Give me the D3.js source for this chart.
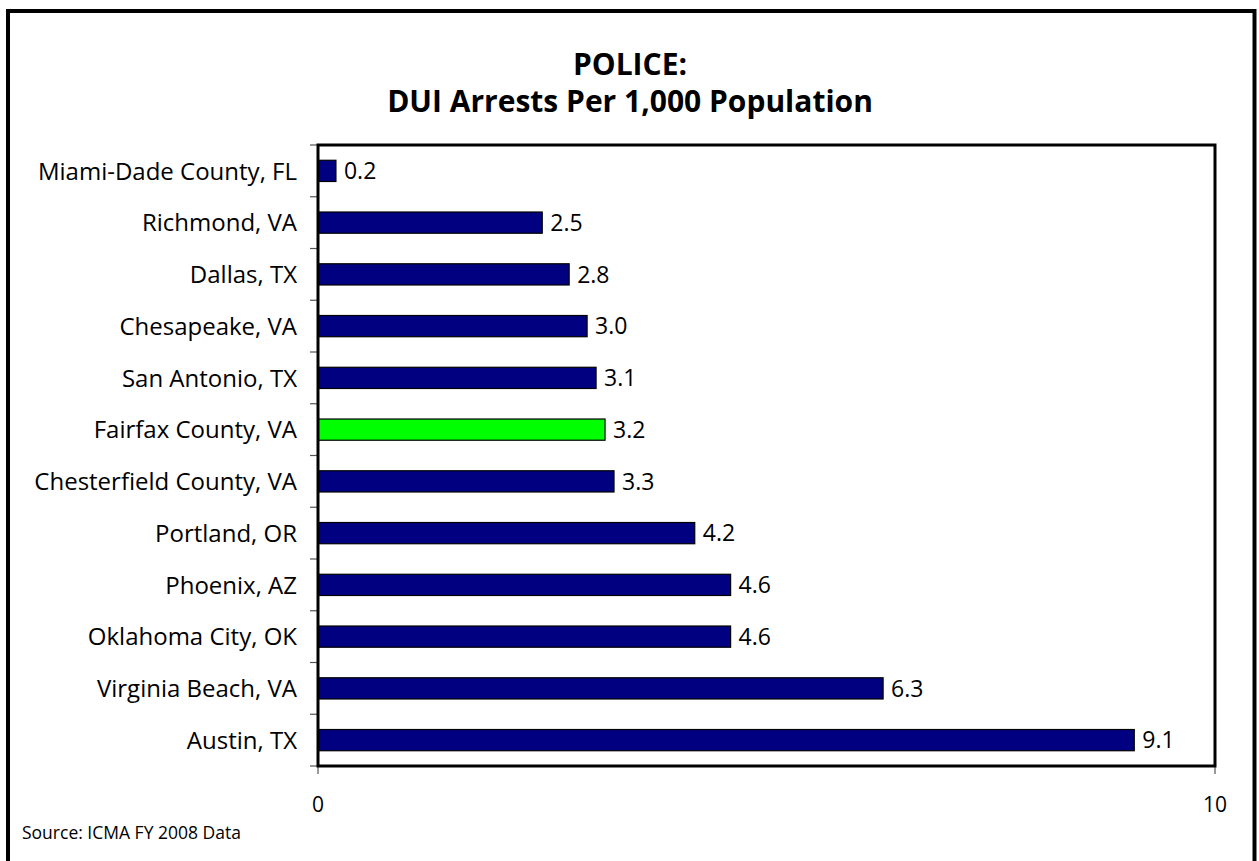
<!DOCTYPE html>
<html>
<head>
<meta charset="utf-8">
<script src="https://cdn.jsdelivr.net/npm/d3@7"></script>
<style>
  html, body { margin: 0; padding: 0; background: #fff; }
  svg { display: block; }
  text { font-family: "Open Sans", Lato, sans-serif; fill: #000; }
</style>
</head>
<body>
<svg id="chart" width="1259" height="861"></svg>
<script>
const categories = [
  "Miami-Dade County, FL",
  "Richmond, VA",
  "Dallas, TX",
  "Chesapeake, VA",
  "San Antonio, TX",
  "Fairfax County, VA",
  "Chesterfield County, VA",
  "Portland, OR",
  "Phoenix, AZ",
  "Oklahoma City, OK",
  "Virginia Beach, VA",
  "Austin, TX"
];
const values = [0.2, 2.5, 2.8, 3.0, 3.1, 3.2, 3.3, 4.2, 4.6, 4.6, 6.3, 9.1];
const highlight = "Fairfax County, VA";
const xTicks = [0, 10];
const titleLines = ["POLICE:", "DUI Arrests Per 1,000 Population"];
const sourceText = "Source: ICMA FY 2008 Data";

const svg = d3.select("#chart");
const plot = { left: 318, right: 1215, top: 145, bottom: 766 };

// outer frame
svg.append("rect")
  .attr("x", 8).attr("y", 11)
  .attr("width", 1254.5 - 8).attr("height", 900)
  .attr("fill", "none").attr("stroke", "#000").attr("stroke-width", 4);

// title
const title = svg.append("text")
  .attr("text-anchor", "middle")
  .style("font-weight", "bold")
  .style("font-size", "30px");
title.append("tspan").attr("x", 630).attr("y", 75).text(titleLines[0]);
title.append("tspan").attr("x", 630).attr("y", 112).text(titleLines[1]);

const x = d3.scaleLinear().domain([0, 10]).range([plot.left, plot.right]);
const y = d3.scaleBand().domain(categories)
  .range([plot.top, plot.bottom])
  .paddingInner(0.59).paddingOuter(0.295);

const data = categories.map((c, i) => ({ c, v: values[i] }));

// y tick marks at category boundaries
const step = y.step();
const bounds = d3.range(categories.length + 1).map(i => plot.top + i * step);
svg.append("g").selectAll("line").data(bounds).join("line")
  .attr("x1", plot.left - 8).attr("x2", plot.left)
  .attr("y1", d => d).attr("y2", d => d)
  .attr("stroke", "#555").attr("stroke-width", 1.2);

// x tick marks
svg.append("g").selectAll("line").data(xTicks).join("line")
  .attr("x1", d => x(d)).attr("x2", d => x(d))
  .attr("y1", plot.bottom).attr("y2", plot.bottom + 8)
  .attr("stroke", "#555").attr("stroke-width", 1.2);

// bars
svg.append("g").selectAll("rect").data(data).join("rect")
  .attr("x", x(0))
  .attr("y", d => y(d.c))
  .attr("width", d => x(d.v) - x(0))
  .attr("height", y.bandwidth())
  .attr("fill", d => d.c === highlight ? "#00FF00" : "#000080")
  .attr("stroke", "#000").attr("stroke-width", 1.2);

// value labels
svg.append("g").selectAll("text").data(data).join("text")
  .attr("x", d => x(d.v) + 8)
  .attr("y", d => y(d.c) + y.bandwidth() / 2)
  .attr("dy", "0.36em")
  .style("font-size", "23px")
  .text(d => d.v.toFixed(1));

// category labels
svg.append("g").selectAll("text").data(data).join("text")
  .attr("x", plot.left - 21)
  .attr("y", d => y(d.c) + y.bandwidth() / 2)
  .attr("dy", "0.36em")
  .attr("text-anchor", "end")
  .style("font-size", "24px")
  .text(d => d.c);

// plot frame
svg.append("rect")
  .attr("x", plot.left).attr("y", plot.top)
  .attr("width", plot.right - plot.left).attr("height", plot.bottom - plot.top)
  .attr("fill", "none").attr("stroke", "#000").attr("stroke-width", 3);

// x tick labels
svg.append("g").selectAll("text").data(xTicks).join("text")
  .attr("x", d => x(d))
  .attr("y", 812)
  .attr("text-anchor", "middle")
  .style("font-size", "21px")
  .text(d => d3.format("d")(d));

// source
svg.append("text")
  .attr("x", 22).attr("y", 839)
  .style("font-size", "17.5px")
  .text(sourceText);
</script>
</body>
</html>
